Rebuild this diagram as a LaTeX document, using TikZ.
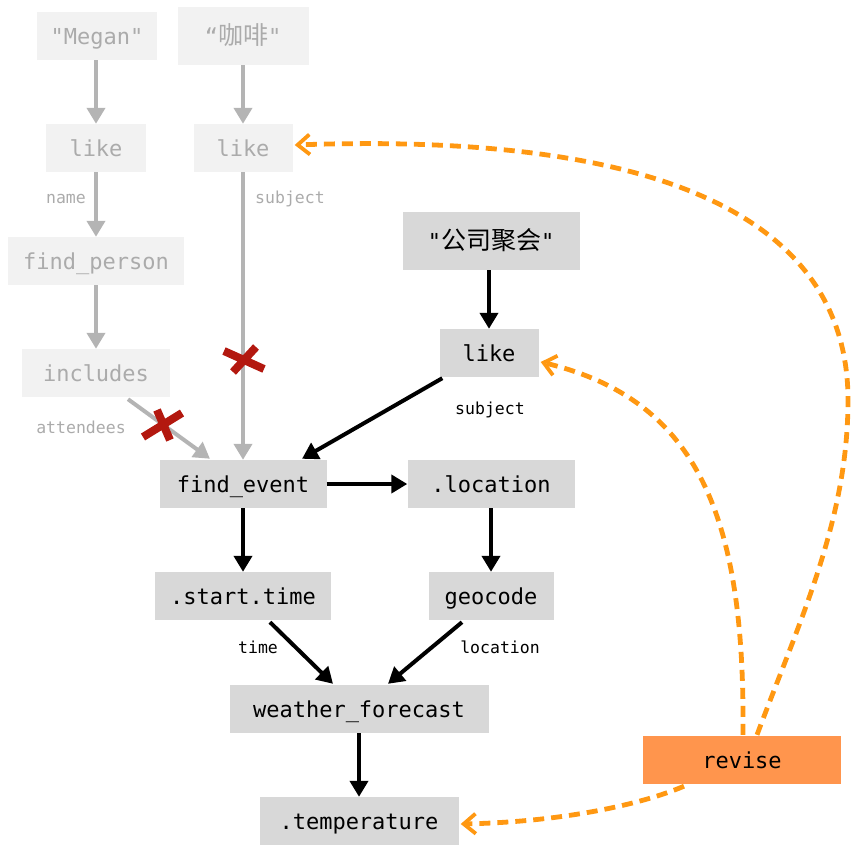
\documentclass[tikz,border=0pt]{standalone}
\usepackage{fontspec}
\newfontfamily\mono{DejaVu Sans Mono}
\newfontfamily\cjk{Noto Sans CJK SC}
\usetikzlibrary{arrows.meta,calc}
\definecolor{lightbox}{HTML}{F2F2F2}
\definecolor{ghosttext}{HTML}{ABABAB}
\definecolor{ghostline}{HTML}{B4B4B4}
\definecolor{darkbox}{HTML}{D8D8D8}
\definecolor{revisefill}{HTML}{FF954D}
\definecolor{dashorange}{HTML}{FF9812}
\definecolor{redx}{HTML}{B3180F}
\begin{document}
\begin{tikzpicture}[x=1bp,y=-1bp,
  box/.style={rectangle, inner xsep=0pt, inner ysep=0pt, minimum height=48bp,
    text height=16bp, text depth=0bp, font=\mono\fontsize{22bp}{26bp}\selectfont},
  ghost/.style={box, fill=lightbox, text=ghosttext},
  active/.style={box, fill=darkbox, text=black},
  revbox/.style={box, fill=revisefill, text=black},
  lbl/.style={inner sep=0pt, font=\mono\fontsize{16.5bp}{20bp}\selectfont},
  garrow/.style={draw=ghostline, line width=4bp, -{Triangle[length=16bp,width=18bp]}},
  barrow/.style={draw=black, line width=4bp, -{Triangle[length=16bp,width=18bp]}},
  darrow/.style={draw=dashorange, line width=4.8bp, dash pattern=on 11bp off 7bp,
    -{Straight Barb[length=12bp,width=20bp,line width=3.8bp]}},
  xmark/.style={draw=redx, line width=8bp}
]
\useasboundingbox (0,0) rectangle (858,857);

% ghost nodes
\node[ghost, minimum width=119bp] (megan) at (97,36) {"Megan"};
\node[ghost, minimum width=131bp, minimum height=58bp] (kafei) at (243,36) {“{\cjk\fontsize{25bp}{28bp}\selectfont 咖啡}"};
\node[ghost, minimum width=100bp] (likeL) at (96,148) {like};
\node[ghost, minimum width=99bp] (likeM) at (243,148) {like};
\node[ghost, minimum width=175bp] (findp) at (96,261) {find\_person};
\node[ghost, minimum width=147bp] (incl) at (96,373) {includes};

% active nodes
\node[active, minimum width=177bp, minimum height=58bp] (gongsi) at (491,241) {"{\cjk\fontsize{25bp}{28bp}\selectfont 公司聚会}"};
\node[active, minimum width=99bp] (likeR) at (489,353) {like};
\node[active, minimum width=167bp] (fe) at (243,484) {find\_event};
\node[active, minimum width=167bp] (loc) at (491,484) {.location};
\node[active, minimum width=176bp] (st) at (243,596) {.start.time};
\node[active, minimum width=125bp] (geo) at (491,596) {geocode};
\node[active, minimum width=259bp] (wf) at (359,709) {weather\_forecast};
\node[active, minimum width=199bp] (temp) at (359,821) {.temperature};
\node[revbox, minimum width=198bp] (rev) at (742,760) {revise};

% labels
\node[lbl, text=ghosttext] (lname) at (66,199) {name};
\node[lbl, text=ghosttext] (lsubj1) at (290,199) {subject};
\node[lbl, text=ghosttext] (latt) at (81,427) {attendees};
\node[lbl] (lsubj2) at (490,410) {subject};
\node[lbl] (ltime) at (258,647) {time};
\node[lbl] (lloc) at (500,647) {location};

% ghost edges
\draw[garrow] (megan.south -| likeL) -- (likeL);
\draw[garrow] (kafei) -- (likeM);
\draw[garrow] (likeL) -- (findp);
\draw[garrow] (findp) -- (incl);
\draw[garrow] ($(incl.south)+(32,2)$) -- ($(fe.north)+(-33,-1)$);
\draw[garrow] (likeM) -- (fe);

% active edges
\draw[barrow] (gongsi.south -| likeR) -- (likeR);
\draw[barrow] ($(likeR.south west)+(3,1)$) -- ($(fe.north)+(59,-1)$);
\draw[barrow] (fe) -- (loc);
\draw[barrow] (fe) -- (st);
\draw[barrow] (loc) -- (geo);
\draw[barrow] ($(st.south)+(27,2)$) -- ($(wf.north)+(-26,-1)$);
\draw[barrow] ($(geo.south)+(-29,2)$) -- ($(wf.north)+(29,-1)$);
\draw[barrow] (wf) -- (temp);

% revise edges
\draw[darrow] ($(rev.south)+(-58,2)$) .. controls (640,805) and (560,822) .. ($(temp.east)+(2,3)$);
\draw[darrow] ($(rev.north)+(1,-1)$) .. controls (745,520) and (700,400) .. ($(likeR.east)+(2,9)$);
\draw[darrow] ($(rev.north)+(15,-1)$) .. controls (800,620) and (848,520) .. (848,400)
  .. controls (848,250) and (720,130) .. ($(likeM.east)+(2,-3)$);

% crosses
\draw[xmark] (224,351) -- (264,369) (256,347) -- (233,372);
\draw[xmark] (143,437) -- (182,413) (157,410) -- (170,440);
\end{tikzpicture}
\end{document}
